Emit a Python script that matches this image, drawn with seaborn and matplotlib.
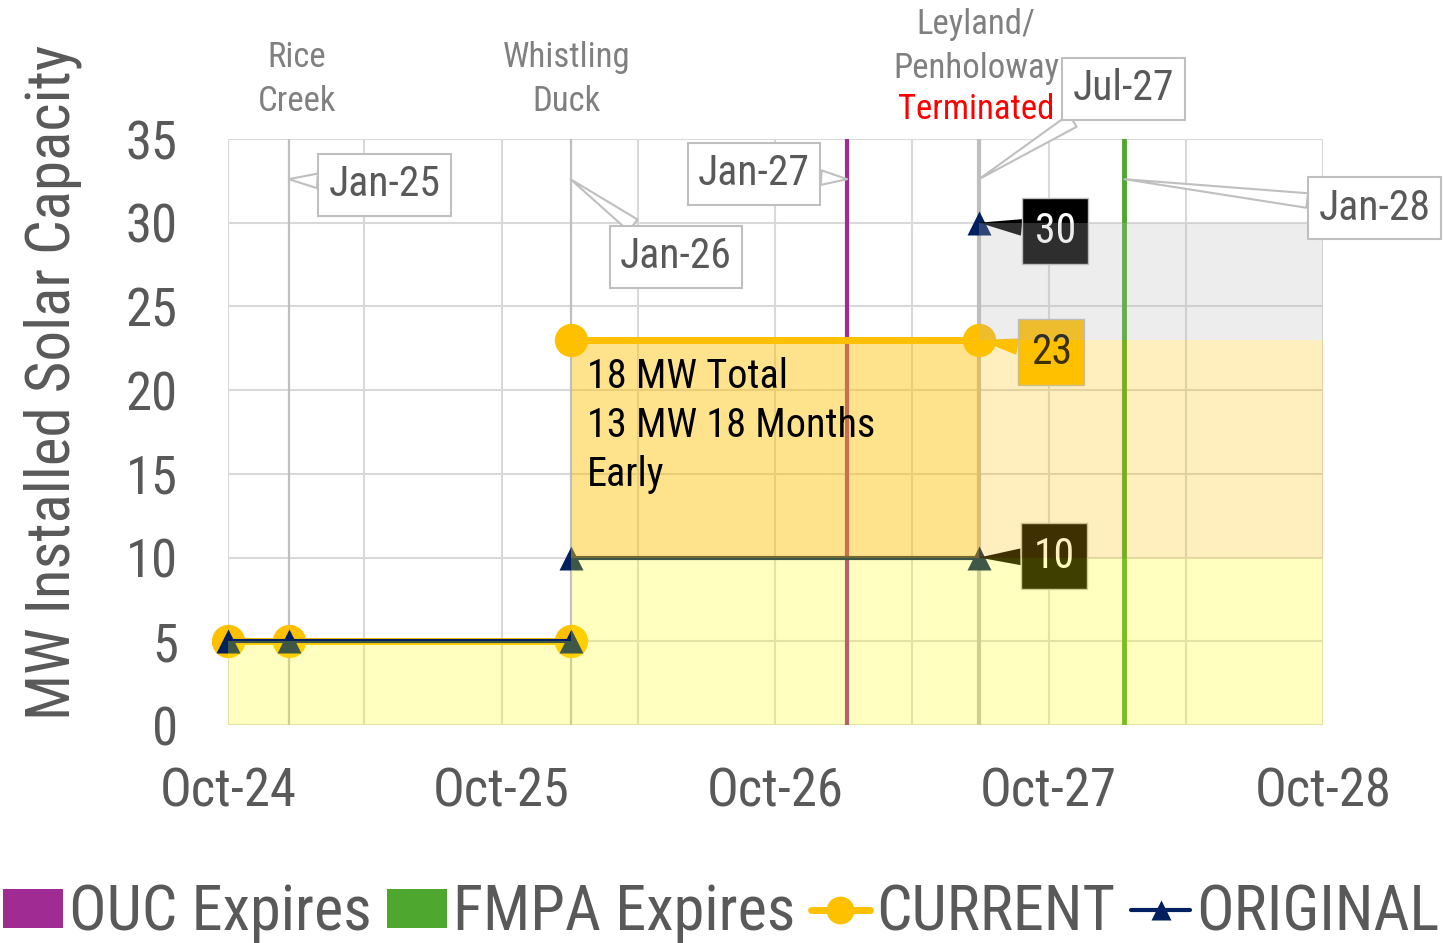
import pandas as pd
import matplotlib
matplotlib.use("Agg")
import matplotlib.pyplot as plt
import matplotlib.dates as mdates
from matplotlib import font_manager
from matplotlib.lines import Line2D
from matplotlib.patches import Patch
import seaborn as sns

# --- values ---
current_dates = ["2024-10-01", "2024-12-21", "2026-01-01", "2026-01-01", "2027-06-30"]
current_mw = [5, 5, 5, 23, 23]
current_seg = [1, 1, 1, 2, 2]

original_dates = ["2024-10-01", "2024-12-21", "2026-01-01", "2026-01-01", "2027-06-30", "2027-06-30"]
original_mw = [5, 5, 5, 10, 10, 30]
original_seg = [1, 1, 1, 2, 2, 3]

project_names = ["Rice\nCreek", "Whistling\nDuck", "Leyland/\nPenholoway"]
project_dates = ["2024-12-21", "2026-01-01", "2027-06-30"]

callout_dates = ["2024-12-21", "2026-01-01", "2027-01-05", "2027-06-30", "2028-01-10"]
callout_text = ["Jan-25", "Jan-26", "Jan-27", "Jul-27", "Jan-28"]

ouc_expires = "2027-01-05"
fmpa_expires = "2028-01-10"

# shaded bands: start, end, low, high
band_start = ["2024-10-01", "2026-01-01", "2026-01-01", "2027-06-30", "2027-06-30"]
band_end = ["2026-01-01", "2028-10-01", "2027-06-30", "2028-10-01", "2028-10-01"]
band_low = [0, 0, 10, 10, 23]
band_high = [5, 10, 23, 23, 30]

x_start, x_end = "2024-10-01", "2028-10-01"

# --- styling ---
GOLD = "#FFC000"
NAVY = "#002060"
PURPLE = "#A02B93"
GREEN = "#4EA72E"
GRID = "#D9D9D9"
TXT = "#595959"
band_colors = ["#FFFF00", "#FFFF00", GOLD, GOLD, "#B8B8B8"]
band_alpha = [0.25, 0.25, 0.45, 0.25, 0.25]

sns.set_style("white")
names = {f.name for f in font_manager.fontManager.ttflist}
fams = [f for f in ["Liberation Sans Narrow", "Roboto Condensed", "Archivo Narrow"] if f in names]
plt.rcParams["font.family"] = fams + ["DejaVu Sans"]

d = lambda s: mdates.date2num(pd.Timestamp(s))

fig = plt.figure(figsize=(14.43, 9.43), dpi=100)
ax = fig.add_axes([228 / 1443, 1 - 725 / 943, (1323 - 228) / 1443, (725 - 139) / 943])

cur = pd.DataFrame({"date": pd.to_datetime(current_dates), "mw": current_mw, "seg": current_seg})
orig = pd.DataFrame({"date": pd.to_datetime(original_dates), "mw": original_mw, "seg": original_seg})

# vertical event lines
for pd_date in project_dates[:2]:
    ax.axvline(d(pd_date), color="#BFBFBF", lw=1.6, zorder=1.5)
ax.axvline(d(project_dates[2]), color="#BFBFBF", lw=3, zorder=1.5)
ax.axvline(d(ouc_expires), color=PURPLE, lw=3, zorder=2)
ax.axvline(d(fmpa_expires), color=GREEN, lw=3.5, zorder=2)

sns.lineplot(data=cur, x="date", y="mw", units="seg", estimator=None, sort=False,
             color=GOLD, lw=5, marker="o", ms=24, mec="none", legend=False, ax=ax,
             zorder=2.5, clip_on=False)
sns.lineplot(data=orig, x="date", y="mw", units="seg", estimator=None, sort=False,
             color=NAVY, lw=3, marker="^", ms=17, mec="none", legend=False, ax=ax,
             zorder=2.6, clip_on=False)

# value labels, drawn under the translucent bands like the original
value_labels = [
    (original_dates[5], original_mw[5], "black", "white", (55, -6)),
    (current_dates[4], current_mw[4], GOLD, "black", (52, -9)),
    (original_dates[4], original_mw[4], "black", "white", (54, 1)),
]
for dt, v, fc, tc, off in value_labels:
    ax.annotate(f"{v:g}", xy=(d(dt), v), xytext=off, textcoords="offset points",
                ha="center", va="center", fontsize=30, color=tc,
                bbox=dict(boxstyle="square,pad=0.3", fc=fc, ec="#BFBFBF", lw=1),
                arrowprops=dict(arrowstyle="wedge,tail_width=0.4", fc=fc, ec="none",
                                shrinkA=0, shrinkB=0),
                zorder=3)

# translucent bands
for s, e, lo, hi, c, a in zip(band_start, band_end, band_low, band_high, band_colors, band_alpha):
    ax.fill_between([d(s), d(e)], [lo, lo], [hi, hi], color=c, alpha=a, lw=0, zorder=4)

# date callouts
callout_offsets = [(69, -4), (76, -56), (-67, 4), (104, 65), (180, -21)]
for dt, txt, off in zip(callout_dates, callout_text, callout_offsets):
    ax.annotate(txt, xy=(d(dt), 32.6), xytext=off, textcoords="offset points",
                ha="center", va="center", fontsize=30, color=TXT,
                bbox=dict(boxstyle="square,pad=0.25", fc="white", ec="#BFBFBF", lw=1.5),
                arrowprops=dict(arrowstyle="wedge,tail_width=0.35", fc="white", ec="#BFBFBF",
                                lw=1.5, shrinkA=0, shrinkB=0),
                zorder=6, annotation_clip=False)

# project names above the plot
proj_offsets = [(6, 43), (-3, 43), (-2, 66.5)]
for name, dt, off in zip(project_names, project_dates, proj_offsets):
    ax.annotate(name, xy=(d(dt), 1.0), xycoords=("data", "axes fraction"),
                xytext=off, textcoords="offset points", ha="center", va="center",
                fontsize=25, color="#808080", linespacing=1.42, annotation_clip=False)
ax.annotate("Terminated", xy=(d(project_dates[2]), 1.0), xycoords=("data", "axes fraction"),
            xytext=(-2, 21), textcoords="offset points", ha="center", va="center",
            fontsize=25, color="#FF0000", annotation_clip=False)

ax.annotate("18 MW Total\n13 MW 18 Months\nEarly", xy=(d(project_dates[1]), 17.9),
            xytext=(12, 0), textcoords="offset points", ha="left", va="center",
            fontsize=29, color="black", linespacing=1.33, zorder=6)

# axes
ax.set_xlim(d(x_start), d(x_end))
ax.set_ylim(0, 35)
ax.set_yticks(range(0, 36, 5))
ax.xaxis.set_major_locator(mdates.MonthLocator(bymonth=10))
ax.xaxis.set_minor_locator(mdates.MonthLocator(bymonth=4))
ax.xaxis.set_major_formatter(mdates.DateFormatter("%b-%y"))
ax.grid(True, which="both", color=GRID, lw=1.5)
ax.set_axisbelow(True)
for sp in ax.spines.values():
    sp.set_visible(False)
ax.tick_params(axis="x", which="major", length=12, width=1.5, color=GRID,
               labelsize=38, labelcolor=TXT, pad=18)
ax.tick_params(axis="x", which="minor", length=0)
ax.tick_params(axis="y", length=0, labelsize=38, labelcolor=TXT, pad=36)
ax.set_xlabel("")
ax.set_ylabel("MW Installed Solar Capacity", fontsize=44, color=TXT)
ax.yaxis.set_label_coords(-0.133, 0.585)

handles = [
    Patch(fc=PURPLE, ec="none"),
    Patch(fc=GREEN, ec="none"),
    Line2D([], [], color=GOLD, lw=5, marker="o", ms=20, mec="none"),
    Line2D([], [], color=NAVY, lw=3, marker="^", ms=15, mec="none"),
]
fig.legend(handles, ["OUC Expires", "FMPA Expires", "CURRENT", "ORIGINAL"],
           loc="lower center", bbox_to_anchor=(0.5, -0.027), ncol=4, frameon=False,
           fontsize=45, labelcolor=TXT, handlelength=0.95, handleheight=0.6,
           handletextpad=0.1, columnspacing=0.25, borderaxespad=0)

fig.savefig("out.png", dpi=100)
